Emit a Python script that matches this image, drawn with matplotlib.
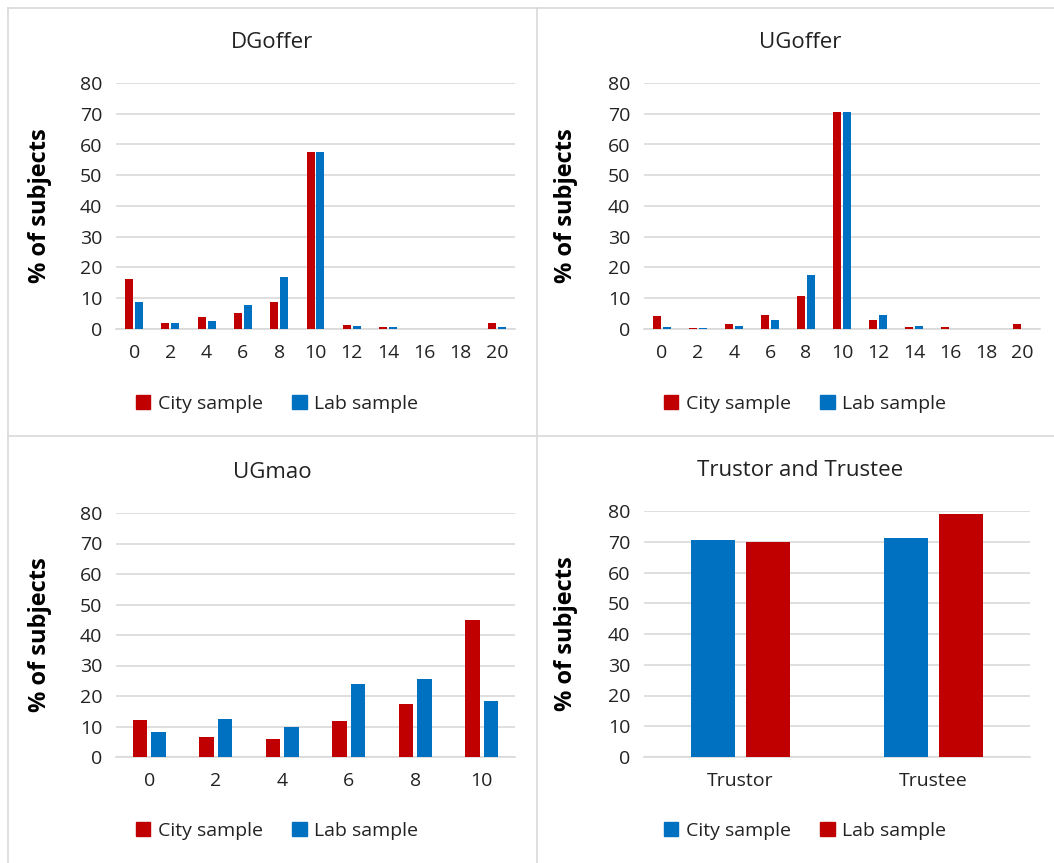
import matplotlib
matplotlib.use("Agg")
from matplotlib import pyplot as plt
from matplotlib.lines import Line2D
from matplotlib.patches import Patch
import numpy as np

plt.rcParams['font.family'] = ['Open Sans', 'DejaVu Sans']

RED = "#C00000"
BLUE = "#0070C0"
GRID = "#d9d9d9"

# Data
offer_cats = ["0", "2", "4", "6", "8", "10", "12", "14", "16", "18", "20"]
dg_city = [16.4, 1.8, 3.8, 5.2, 8.8, 57.7, 1.4, 0.6, 0, 0, 2.1]
dg_lab = [8.8, 2.1, 2.7, 7.9, 16.8, 57.7, 1.1, 0.6, 0, 0, 0.5]
ug_city = [4.3, 0.4, 1.7, 4.4, 10.8, 70.6, 2.8, 0.8, 0.5, 0, 1.7]
ug_lab = [0.5, 0.4, 1.1, 2.8, 17.6, 70.6, 4.4, 0.9, 0, 0, 0]

mao_cats = ["0", "2", "4", "6", "8", "10"]
mao_city = [12.2, 6.5, 5.9, 11.9, 17.4, 44.9]
mao_lab = [8.3, 12.5, 9.9, 24.0, 25.7, 18.3]

trust_cats = ["Trustor", "Trustee"]
trust_city = [70.7, 71.3]
trust_lab = [70.0, 79.1]

W, H = 1054, 863
fig = plt.figure(figsize=(W / 100, H / 100), dpi=100)


def px_axes(x0, y0, x1, y1):
    # pixel box (top-left origin) -> figure fraction
    return fig.add_axes([x0 / W, 1 - y1 / H, (x1 - x0) / W, (y1 - y0) / H])


def panel(box, cats, first, second, c1, c2, title, cx, ylab_x, bw):
    ax = px_axes(*box)
    x = np.arange(len(cats))
    gap = bw * 0.25
    off = bw / 2 + gap / 2
    ax.bar(x - off, first, width=bw, color=c1, zorder=3)
    ax.bar(x + off, second, width=bw, color=c2, zorder=3)
    ax.set_xlim(-0.5, len(cats) - 0.5)
    ax.set_ylim(0, 80)
    ax.set_yticks(range(0, 81, 10))
    ax.set_xticks(x)
    ax.set_xticklabels(cats)
    ax.grid(axis="y", color=GRID, linewidth=1.2, zorder=0)
    for s in ["top", "right", "left"]:
        ax.spines[s].set_visible(False)
    ax.spines["bottom"].set_color(GRID)
    ax.spines["bottom"].set_linewidth(1.2)
    ax.tick_params(length=0, labelsize=14, colors="#222222", pad=10)
    ax.tick_params(axis="x", pad=11)
    fig.text(cx / W, 1 - 42 / H - (box[1] - 83) / H, title, ha="center",
             va="center", fontsize=16, color="#222222")
    fig.text(ylab_x / W, 1 - (box[1] + box[3]) / 2 / H, "% of subjects",
             rotation=90, ha="center", va="center", fontsize=17,
             fontweight="bold", color="black")
    return ax


p1 = panel((116, 83, 515, 329), offer_cats, dg_city, dg_lab, RED, BLUE,
           "DGoffer", 272, 40, 0.22)
p2 = panel((644, 83, 1040, 329), offer_cats, ug_city, ug_lab, RED, BLUE,
           "UGoffer", 800, 566, 0.22)
p3 = panel((116, 513, 515, 757), mao_cats, mao_city, mao_lab, RED, BLUE,
           "UGmao", 272, 40, 0.22)
p4 = panel((644, 511, 1030, 757), trust_cats, trust_city, trust_lab, BLUE, RED,
           "Trustor and Trustee", 800, 566, 0.23)


def legend(cx, cy, c1, c2):
    handles = [Patch(color=c1, label="City sample"),
               Patch(color=c2, label="Lab sample")]
    fig.legend(handles=handles, loc="center", ncol=2,
               bbox_to_anchor=(cx / W, 1 - cy / H), frameon=False,
               fontsize=14, handlelength=0.75, handleheight=0.75,
               handletextpad=0.4, columnspacing=1.5, labelcolor="#222222")


legend(277, 404, RED, BLUE)
legend(805, 404, RED, BLUE)
legend(277, 831, RED, BLUE)
legend(805, 831, BLUE, RED)

# panel borders
lines = [((8, 1054), (8, 8)), ((8, 8), (8, 863)), ((537, 537), (8, 863)),
         ((8, 1054), (436, 436))]
for xs, ys in lines:
    fig.add_artist(Line2D([xs[0] / W, xs[1] / W], [1 - ys[0] / H, 1 - ys[1] / H],
                          color=GRID, linewidth=1.2))

fig.savefig("out.png", dpi=100)
